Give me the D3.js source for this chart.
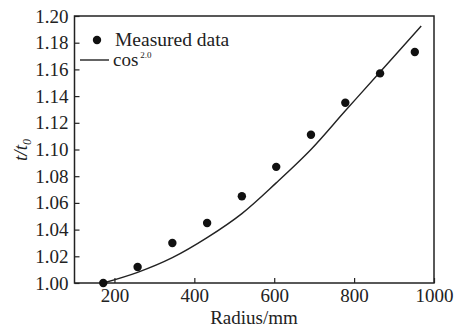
<!DOCTYPE html>
<html>
<head>
<meta charset="utf-8">
<script src="https://cdn.jsdelivr.net/npm/d3@7"></script>
<style>
  body { margin: 0; background: #fff; }
  svg text { font-family: "Liberation Serif", "DejaVu Serif", serif; fill: #222; }
</style>
</head>
<body>
<div id="chart"></div>
<script>
// Measured points
const radius = [172, 258, 345, 432, 519, 605, 692, 778, 865, 952]
const ratio = [1.000, 1.012, 1.030, 1.045, 1.065, 1.087, 1.111, 1.135, 1.157, 1.173]

// cos^2.0 curve
const curveRadius = [172, 258, 345, 432, 519, 605, 692, 778, 865, 968]
const curveRatio = [1.000, 1.008, 1.019, 1.034, 1.052, 1.075, 1.100, 1.129, 1.158, 1.1925]

const xTicks = [200, 400, 600, 800, 1000]
const yTicks = [1.00, 1.02, 1.04, 1.06, 1.08, 1.10, 1.12, 1.14, 1.16, 1.18, 1.20]

const w = 460, h = 329
const serif = "'Liberation Serif', 'DejaVu Serif', serif"
const svg = d3.select("#chart").append("svg")
    .attr("width", w)
    .attr("height", h)
    .attr("font-family", serif)

const x = d3.scaleLinear().domain([100, 1000]).range([74.5, 434])
const y = d3.scaleLinear().domain([1.00, 1.20]).range([283, 16])
const ink = "#222"

// frame
svg.append("rect")
    .attr("x", x(100)).attr("y", y(1.20))
    .attr("width", x(1000) - x(100)).attr("height", y(1.00) - y(1.20))
    .attr("fill", "none").attr("stroke", ink).attr("stroke-width", 1.5)

// axes with inward ticks
const xAxis = svg.append("g")
    .attr("transform", "translate(0," + y(1.00) + ")")
    .call(d3.axisBottom(x).tickValues(xTicks).tickSizeInner(-5).tickSizeOuter(0).tickPadding(6).tickFormat(d3.format("d")))
const yAxis = svg.append("g")
    .attr("transform", "translate(" + x(100) + ",0)")
    .call(d3.axisLeft(y).tickValues(yTicks).tickSizeInner(-5).tickSizeOuter(0).tickPadding(6).tickFormat(d3.format(".2f")))

for (const g of [xAxis, yAxis]) {
    g.attr("font-family", serif).attr("font-size", 19)
    g.select(".domain").remove()
    g.selectAll(".tick line").attr("stroke", ink).attr("stroke-width", 1.2)
    g.selectAll(".tick text").attr("fill", ink)
}

// curve
const line = d3.line()
    .x((d, i) => x(curveRadius[i]))
    .y(d => y(d))
    .curve(d3.curveCatmullRom)
svg.append("path")
    .attr("d", line(curveRatio))
    .attr("fill", "none")
    .attr("stroke", ink)
    .attr("stroke-width", 1.4)

// points
svg.append("g").selectAll("circle")
    .data(ratio)
    .join("circle")
    .attr("cx", (d, i) => x(radius[i]))
    .attr("cy", d => y(d))
    .attr("r", 4.2)
    .attr("fill", "#111")

// legend
const lg = svg.append("g")
lg.append("circle").attr("cx", 97).attr("cy", 40).attr("r", 4.2).attr("fill", "#111")
lg.append("text").attr("x", 115).attr("y", 46).style("font-size", "19.5px").text("Measured data")
lg.append("line").attr("x1", 80).attr("x2", 109).attr("y1", 60).attr("y2", 60)
    .attr("stroke", ink).attr("stroke-width", 1.4)
const cosText = lg.append("text").attr("x", 113).attr("y", 66).style("font-size", "19px")
cosText.append("tspan").text("cos")
cosText.append("tspan").attr("dx", 2).attr("dy", -8).style("font-size", "9px").text("2.0")

// axis titles
svg.append("text")
    .attr("x", 254).attr("y", 323.5)
    .attr("text-anchor", "middle")
    .style("font-size", "19px")
    .text("Radius/mm")

const yt = svg.append("text")
    .attr("transform", "translate(27,150) rotate(-90)")
    .attr("text-anchor", "middle")
    .style("font-size", "19px")
    .style("font-style", "italic")
yt.append("tspan").text("t/t")
yt.append("tspan").attr("dy", 4).style("font-size", "12px").text("0")
</script>
</body>
</html>
